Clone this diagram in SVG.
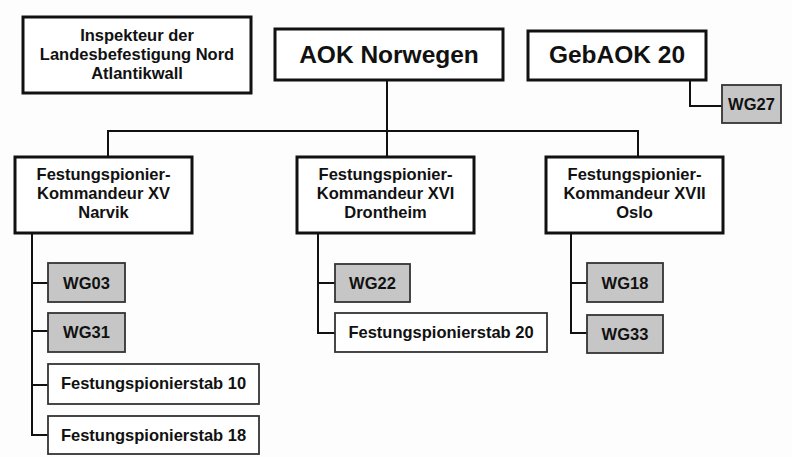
<svg xmlns="http://www.w3.org/2000/svg" width="792" height="457" viewBox="0 0 792 457">
<style>
.main{fill:#fff;stroke:#111;stroke-width:3}
.sub{fill:#fff;stroke:#333;stroke-width:1.8}
.gray{fill:#c6c6c6;stroke:#333;stroke-width:1.8}
.t{font-family:"Liberation Sans",Arial,sans-serif;font-weight:bold;fill:#111;text-anchor:middle}
.big{font-size:24.5px}
.mid{font-size:16.5px}
.conn{fill:none;stroke:#111;stroke-width:2}
</style>
<rect width="792" height="457" fill="#fdfdfd"/>
<g id="connectors">
<path class="conn" d="M690,80 V106 H722"/>
<path class="conn" d="M387,80 V157"/>
<path class="conn" d="M108,157 V131 H638 V157"/>
<path class="conn" d="M32,233 V435 H48 M32,283 H48 M32,331 H48 M32,385 H48"/>
<path class="conn" d="M318,233 V333 H335 M318,283 H335"/>
<path class="conn" d="M571,233 V333 H587 M571,283 H587"/>
</g>
<g id="inspekteur">
<rect class="main" x="23" y="17" width="228" height="76"/>
<text class="t mid" x="137" y="41">Inspekteur der</text>
<text class="t mid" x="137" y="60">Landesbefestigung Nord</text>
<text class="t mid" x="137" y="79">Atlantikwall</text>
</g>
<g id="aok">
<rect class="main" x="275" y="29" width="228" height="51"/>
<text class="t big" x="389" y="63">AOK Norwegen</text>
</g>
<g id="gebaok">
<rect class="main" x="528" y="31" width="178" height="49"/>
<text class="t big" x="617" y="63">GebAOK 20</text>
</g>
<g id="wg27">
<rect class="gray" x="722" y="85" width="59" height="38"/>
<text class="t mid" x="751.5" y="110">WG27</text>
</g>
<g id="kdr15">
<rect class="main" x="15" y="157" width="177" height="76"/>
<text class="t mid" x="103.5" y="180">Festungspionier-</text>
<text class="t mid" x="103.5" y="199">Kommandeur XV</text>
<text class="t mid" x="103.5" y="218">Narvik</text>
</g>
<g id="kdr16">
<rect class="main" x="297" y="157" width="177" height="76"/>
<text class="t mid" x="385.5" y="180">Festungspionier-</text>
<text class="t mid" x="385.5" y="199">Kommandeur XVI</text>
<text class="t mid" x="385.5" y="218">Drontheim</text>
</g>
<g id="kdr17">
<rect class="main" x="546" y="157" width="177" height="76"/>
<text class="t mid" x="634.5" y="180">Festungspionier-</text>
<text class="t mid" x="634.5" y="199">Kommandeur XVII</text>
<text class="t mid" x="634.5" y="218">Oslo</text>
</g>
<g id="wg03">
<rect class="gray" x="48" y="263" width="77" height="39"/>
<text class="t mid" x="86.5" y="289">WG03</text>
</g>
<g id="wg31">
<rect class="gray" x="48" y="313" width="77" height="39"/>
<text class="t mid" x="86.5" y="338">WG31</text>
</g>
<g id="fs10">
<rect class="sub" x="48" y="364" width="211" height="40"/>
<text class="t mid" x="153.5" y="389">Festungspionierstab 10</text>
</g>
<g id="fs18">
<rect class="sub" x="48" y="416" width="211" height="38"/>
<text class="t mid" x="153.5" y="441">Festungspionierstab 18</text>
</g>
<g id="wg22">
<rect class="gray" x="335" y="264" width="75" height="38"/>
<text class="t mid" x="372.5" y="289">WG22</text>
</g>
<g id="fs20">
<rect class="sub" x="335" y="313" width="212" height="39"/>
<text class="t mid" x="441" y="338">Festungspionierstab 20</text>
</g>
<g id="wg18">
<rect class="gray" x="587" y="263" width="76" height="39"/>
<text class="t mid" x="625" y="289">WG18</text>
</g>
<g id="wg33">
<rect class="gray" x="587" y="315" width="76" height="38"/>
<text class="t mid" x="625" y="340">WG33</text>
</g>
</svg>
